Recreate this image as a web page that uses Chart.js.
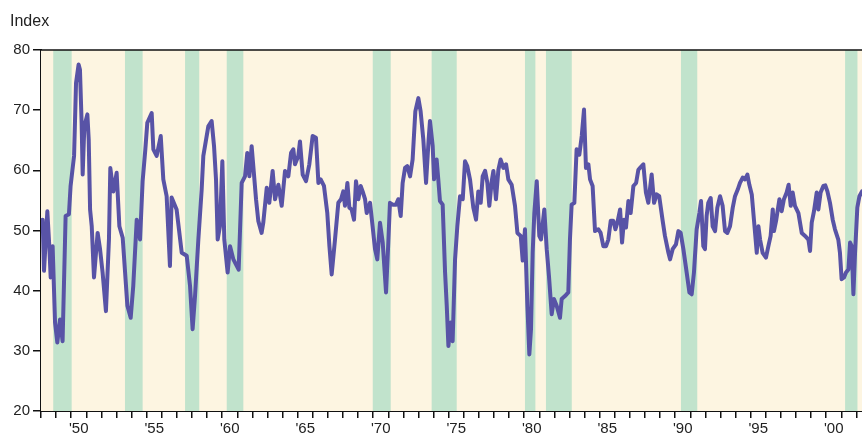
<!DOCTYPE html>
<html>
<head>
<meta charset="utf-8">
<script src="https://cdn.jsdelivr.net/npm/chart.js@4.4.1/dist/chart.umd.min.js"></script>
<style>
html,body{margin:0;padding:0;background:#fff;overflow:hidden;}
#wrap{width:862px;height:435px;position:relative;}
</style>
</head>
<body>
<div id="wrap"><canvas id="c" width="862" height="435"></canvas></div>
<script>
// ---- data ----
const yAxisTitle = 'Index';
const yTicks = [20, 30, 40, 50, 60, 70, 80];
const xLabelYears = [1950, 1955, 1960, 1965, 1970, 1975, 1980, 1985, 1990, 1995, 2000];
const recessionStarts = [1948.81, 1953.56, 1957.54, 1960.30, 1969.97, 1973.87, 1980.05, 1981.44, 1990.38, 2001.25];
const recessionEnds   = [1950.03, 1954.73, 1958.48, 1961.40, 1971.16, 1975.53, 1980.74, 1983.15, 1991.46, 2002.07];

const dates1948 = [1948.11,1948.20,1948.42,1948.55,1948.64,1948.77,1948.93,1949.08,1949.26,1949.43,1949.63,1949.85,1949.96,1950.19,1950.32,1950.49,1950.58,1950.69,1950.76,1950.87,1951.07,1951.16,1951.25,1951.36,1951.51,1951.75,1951.91,1952.08,1952.30,1952.50,1952.59,1952.79,1953.01,1953.19,1953.41,1953.72,1953.94,1954.11,1954.34,1954.56,1954.73,1954.91,1955.04,1955.33,1955.44,1955.66,1955.93,1956.10,1956.32,1956.54,1956.65,1956.98,1957.32,1957.65,1957.87,1958.04,1958.20,1958.42,1958.64,1958.75,1959.08,1959.30,1959.46,1959.59,1959.70,1959.85,1960.01,1960.14,1960.36,1960.52,1960.74,1961.09];
const values1948 = [51.8,43.3,53.2,47.4,42.2,47.4,34.7,31.4,35.2,31.6,52.4,52.7,57.4,62.4,74.5,77.6,76.7,67.9,59.3,67.3,69.3,65.1,53.5,50.7,42.2,49.6,46.9,43.0,36.6,48.5,60.4,56.5,59.6,50.7,48.8,37.5,35.5,40.8,51.8,48.5,58.2,63.5,67.9,69.5,63.5,62.4,65.7,58.5,55.7,44.1,55.5,53.5,46.3,45.8,40.8,33.6,39.1,48.5,56.8,62.4,67.3,68.2,64.0,58.5,48.5,50.7,61.5,48.5,43.0,47.4,45.2,43.5];

const dates1961 = [1961.29,1961.51,1961.66,1961.80,1961.95,1962.06,1962.24,1962.39,1962.61,1962.72,1962.95,1963.12,1963.34,1963.50,1963.72,1963.94,1964.16,1964.38,1964.56,1964.71,1964.82,1965.04,1965.15,1965.33,1965.55,1965.77,1965.99,1966.21,1966.37,1966.52,1966.74,1966.96,1967.10,1967.25,1967.47,1967.69,1967.87,1968.02,1968.13,1968.29,1968.42,1968.57,1968.73,1968.86,1969.02,1969.17,1969.30,1969.46,1969.57,1969.79,1969.96,1970.12,1970.27,1970.45,1970.63,1970.85,1971.00,1971.11,1971.29,1971.51,1971.66,1971.82,1971.95,1972.11,1972.26,1972.44,1972.61,1972.79,1972.99,1973.14,1973.32,1973.50,1973.67];
const values1961 = [57.9,59.0,62.9,59.0,64.0,60.7,55.2,51.6,49.6,51.3,57.1,54.6,59.9,55.2,57.6,54.1,59.9,59.0,62.9,63.5,61.0,62.4,64.8,59.3,58.2,61.0,65.7,65.4,57.9,58.5,57.4,52.9,47.4,42.7,48.5,54.6,55.2,56.5,54.1,57.9,53.8,53.5,51.8,58.2,55.2,57.4,56.5,55.2,52.9,54.6,50.7,46.9,45.2,51.3,48.0,39.7,48.0,54.6,54.3,54.3,55.2,52.4,57.9,60.4,60.7,59.0,61.8,69.8,72.0,69.8,65.1,57.9,65.1];

const dates1973 = [1973.76,1973.94,1974.03,1974.20,1974.31,1974.42,1974.60,1974.76,1974.87,1974.98,1975.13,1975.26,1975.42,1975.57,1975.75,1975.93,1976.08,1976.23,1976.41,1976.63,1976.81,1976.96,1977.12,1977.25,1977.41,1977.56,1977.69,1977.85,1977.96,1978.13,1978.29,1978.44,1978.62,1978.80,1978.95,1979.17,1979.39,1979.55,1979.77,1979.90,1980.05,1980.21,1980.34,1980.45,1980.56,1980.67,1980.83,1981.00,1981.11,1981.33,1981.49,1981.64,1981.82,1981.97,1982.15,1982.37,1982.48,1982.70,1982.92,1983.03,1983.14,1983.32,1983.47,1983.65,1983.81,1983.96,1984.09,1984.25,1984.36,1984.53,1984.69,1984.91,1985.06,1985.24,1985.42,1985.57,1985.73,1985.90,1986.04,1986.17,1986.35,1986.48,1986.61,1986.74,1986.90,1987.05,1987.23,1987.41,1987.56];
const values1973 = [68.2,64.0,58.5,61.8,58.5,54.9,54.3,43.0,37.5,30.8,34.7,31.6,45.2,50.7,55.7,55.2,61.5,60.7,58.5,53.8,51.8,56.5,54.6,59.0,59.9,57.9,54.1,58.2,59.9,55.2,60.1,61.8,60.4,61.0,58.5,57.6,54.1,49.6,49.1,45.0,50.2,37.5,29.4,33.6,46.3,52.9,58.2,49.1,48.5,53.5,46.9,42.4,36.1,38.6,37.5,35.5,38.6,39.1,39.7,48.5,54.3,54.6,63.5,62.6,65.7,70.1,60.4,61.0,58.5,57.4,49.9,50.2,49.6,47.4,47.4,48.5,51.6,51.6,50.2,51.3,53.5,48.0,51.8,50.5,54.9,52.9,57.4,57.9,60.1];

const dates1987 = [1987.67,1987.89,1988.06,1988.22,1988.44,1988.60,1988.77,1988.94,1989.17,1989.32,1989.55,1989.66,1989.83,1990.05,1990.21,1990.36,1990.54,1990.76,1990.94,1991.09,1991.24,1991.42,1991.60,1991.71,1991.86,1991.97,1992.08,1992.19,1992.35,1992.48,1992.64,1992.79,1992.97,1993.14,1993.30,1993.45,1993.63,1993.81,1993.96,1994.14,1994.29,1994.47,1994.62,1994.78,1994.91,1995.07,1995.22,1995.40,1995.51,1995.62,1995.79,1996.01,1996.17,1996.32,1996.46,1996.54,1996.68,1996.90,1997.05,1997.20,1997.38,1997.51,1997.65,1997.78,1997.93,1998.16,1998.38,1998.60,1998.82,1998.93,1999.04,1999.19,1999.37,1999.48,1999.63,1999.81,1999.94,2000.08,2000.25,2000.43,2000.58,2000.80,2000.91,2001.02,2001.18,2001.31,2001.47,2001.58,2001.69,2001.80,2001.91,2002.06,2002.20,2002.37];
const values1987 = [60.4,61.0,56.3,54.6,59.3,54.6,56.0,55.7,51.6,49.1,46.3,45.2,46.9,47.7,49.9,49.6,46.9,43.0,39.7,39.4,43.0,50.2,52.9,54.9,47.4,46.9,52.4,54.6,55.4,50.7,49.9,53.8,55.7,54.1,49.9,49.6,50.7,53.8,55.7,56.8,57.9,58.8,58.5,59.3,57.6,56.0,51.6,46.3,50.7,48.5,46.3,45.5,47.4,49.1,53.5,49.9,51.6,55.2,53.2,55.2,56.3,57.6,54.1,56.3,54.1,52.9,49.6,49.1,48.5,46.6,51.3,53.2,56.3,53.5,56.3,57.4,57.5,56.5,54.6,51.8,50.2,48.5,46.3,41.9,42.2,43.0,43.5,48.0,47.4,39.4,46.3,53.8,55.7,56.5];

// ---- build ----
const allDates = dates1948.concat(dates1961, dates1973, dates1987);
const allValues = values1948.concat(values1961, values1973, values1987);
const points = allDates.map((d, i) => ({x: d, y: allValues[i]}));

const COLORS = {
  bg: '#fdf5e1',
  band: '#c1e3cc',
  line: '#5853a6',
  axis: '#111111',
  text: '#222222'
};

const decor = {
  id: 'decor',
  beforeDatasetsDraw(chart) {
    const {ctx, chartArea: a, scales: {x}} = chart;
    ctx.save();
    ctx.fillStyle = COLORS.bg;
    ctx.fillRect(a.left, a.top, a.right - a.left, a.bottom - a.top);
    ctx.beginPath();
    ctx.rect(a.left, a.top, a.right - a.left, a.bottom - a.top);
    ctx.clip();
    ctx.fillStyle = COLORS.band;
    recessionStarts.forEach((s, i) => {
      const x0 = x.getPixelForValue(s);
      const x1 = x.getPixelForValue(recessionEnds[i]);
      ctx.fillRect(x0, a.top, x1 - x0, a.bottom - a.top);
    });
    ctx.restore();
  },
  afterDraw(chart) {
    const {ctx, chartArea: a} = chart;
    ctx.save();
    ctx.strokeStyle = COLORS.axis;
    ctx.lineWidth = 1.5;
    ctx.beginPath();
    ctx.moveTo(a.left, a.top);
    ctx.lineTo(a.right, a.top);
    ctx.stroke();
    ctx.fillStyle = COLORS.text;
    ctx.font = '16px "Liberation Sans", Arial, sans-serif';
    ctx.textBaseline = 'alphabetic';
    ctx.textAlign = 'left';
    ctx.fillText(yAxisTitle, 10, 26);
    ctx.restore();
  }
};

new Chart(document.getElementById('c'), {
  type: 'line',
  data: {
    datasets: [{
      data: points,
      borderColor: COLORS.line,
      borderWidth: 4,
      pointRadius: 0,
      tension: 0,
      borderJoinStyle: 'round',
      borderCapStyle: 'round'
    }]
  },
  options: {
    responsive: false,
    animation: false,
    layout: {padding: {top: 50, right: 0, bottom: 0, left: 0}},
    plugins: {legend: {display: false}, tooltip: {enabled: false}},
    scales: {
      x: {
        type: 'linear',
        min: 1948,
        max: 2002.37,
        afterBuildTicks(scale) {
          const t = [];
          for (let y = 1948; y <= 2002; y++) t.push({value: y});
          scale.ticks = t;
        },
        afterFit(scale) { scale.height = 24; },
        ticks: {
          autoSkip: false,
          maxRotation: 0,
          labelOffset: 7.5,
          padding: 2,
          color: COLORS.text,
          font: {family: '"Liberation Sans", Arial, sans-serif', size: 15},
          callback(v) {
            return xLabelYears.includes(v) ? "'" + String(v % 100).padStart(2, '0') : '';
          }
        },
        grid: {drawOnChartArea: false, tickLength: 7, color: COLORS.axis, lineWidth: 1.5},
        border: {display: true, color: COLORS.axis, width: 2}
      },
      y: {
        min: 20,
        max: 80,
        afterBuildTicks(scale) { scale.ticks = yTicks.map(v => ({value: v})); },
        afterFit(scale) { scale.width = 41; },
        ticks: {
          padding: 3,
          color: COLORS.text,
          font: {family: '"Liberation Sans", Arial, sans-serif', size: 15}
        },
        grid: {drawOnChartArea: false, tickLength: 8, color: COLORS.axis, lineWidth: 1.5},
        border: {display: true, color: COLORS.axis, width: 2}
      }
    }
  },
  plugins: [decor]
});
</script>
</body>
</html>
